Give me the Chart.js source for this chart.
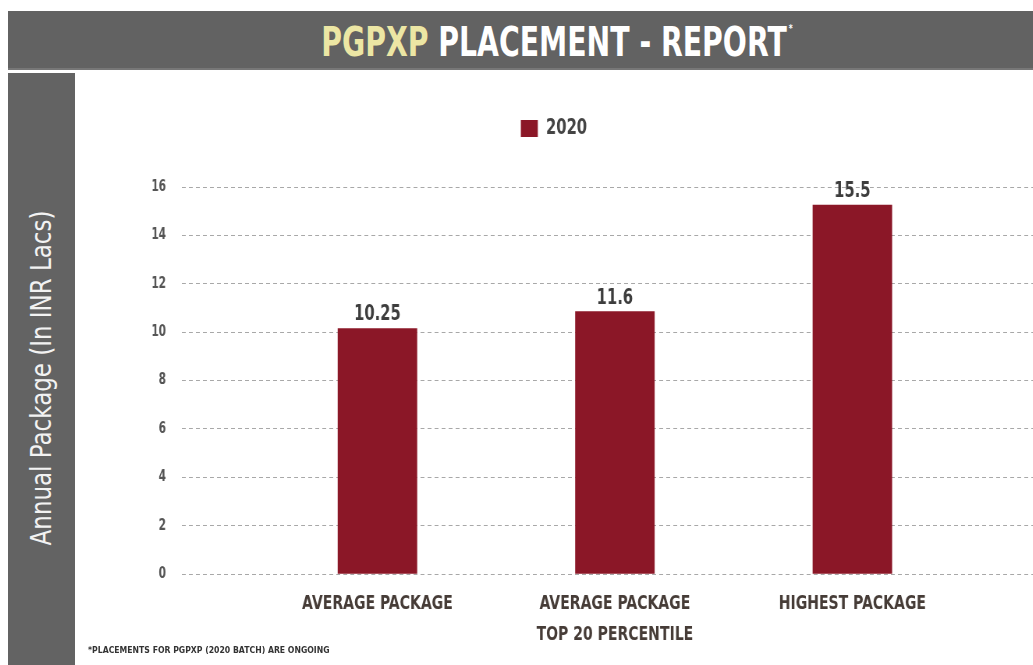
<!DOCTYPE html>
<html>
<head>
<meta charset="utf-8">
<script src="https://cdn.jsdelivr.net/npm/chart.js@4"></script>
<style>
  html, body { margin: 0; padding: 0; background: #fff; }
  body { width: 1033px; height: 665px; position: relative; overflow: hidden; font-family: "DejaVu Sans", sans-serif; }
  #header { position: absolute; left: 8px; top: 11px; width: 1025px; height: 59px; background: #626262; border-bottom: 2px solid #777; box-sizing: border-box; }
  #header .t { position: absolute; left: 549px; top: 31px; transform: translate(-50%, -50%) scaleX(0.69); white-space: nowrap;
               color: #fff; font-weight: bold; font-size: 41px; }
  #header .pg { color: #ece6a4; }
  #header sup { font-size: 11px; vertical-align: top; position: relative; top: 4px; margin-left: 3px; }
  #side { position: absolute; left: 8px; top: 73px; width: 67px; height: 592px; background: #636363; }
  #side span { position: absolute; left: 33px; top: 305px; transform: translate(-50%, -50%) rotate(-90deg) scaleX(0.82); white-space: nowrap;
               color: #f2f2f2; font-size: 28px; }
  #wrap { position: absolute; left: 75px; top: 73px; width: 958px; height: 592px; }
  #wrap canvas { transform: scaleX(0.78); transform-origin: left top; }
  #note { position: absolute; left: 88px; top: 645px; font-size: 9px; font-weight: bold; color: #333; transform: scaleX(0.86); transform-origin: left top; white-space: nowrap; }
</style>
</head>
<body>
<div id="header"><span class="t"><span class="pg">PGPXP</span> PLACEMENT - REPORT<sup>*</sup></span></div>
<div id="side"><span>Annual Package (In INR Lacs)</span></div>
<div id="wrap"><canvas id="placementChart" width="1228" height="592"></canvas></div>
<div id="note">*PLACEMENTS FOR PGPXP (2020 BATCH) ARE ONGOING</div>
<script>
let categories = [['AVERAGE PACKAGE'], ['AVERAGE PACKAGE', 'TOP 20 PERCENTILE'], ['HIGHEST PACKAGE']]
let values = [10.15, 10.85, 15.25]
let valueLabels = ['10.25', '11.6', '15.5']
let yTicks = [0, 2, 4, 6, 8, 10, 12, 14, 16]
let seriesName = '2020'

let font = '"DejaVu Sans Condensed", "DejaVu Sans", sans-serif'
// canvas is drawn wide and squeezed by css, so text comes out narrow like the original
let squeeze = 0.78

// extra room under the legend
let legendGap = {
  id: 'legendGap',
  beforeInit(chart) {
    let fit = chart.legend.fit
    chart.legend.fit = function () {
      fit.bind(chart.legend)()
      this.height += 38
    }
  }
}

let condensed = {
  id: 'condensed',
  beforeDraw(chart) { chart.ctx.fontStretch = 'condensed' }
}

let barLabels = {
  id: 'barLabels',
  afterDatasetsDraw(chart) {
    let ctx = chart.ctx
    let meta = chart.getDatasetMeta(0)
    ctx.save()
    ctx.font = 'bold 21px ' + font
    ctx.fontStretch = 'condensed'
    ctx.fillStyle = '#3d3d3d'
    ctx.textAlign = 'center'
    ctx.textBaseline = 'bottom'
    meta.data.forEach((bar, i) => {
      ctx.fillText(valueLabels[i], bar.x, bar.y - 3)
    })
    ctx.restore()
  }
}

let ctx = document.getElementById('placementChart').getContext('2d')
let chart = new Chart(ctx, {
  type: 'bar',
  data: {
    datasets: [{
      label: seriesName,
      data: values.map((v, i) => ({ x: i, y: v })),
      backgroundColor: '#8b1727',
      barThickness: 79 / squeeze
    }]
  },
  options: {
    responsive: false,
    animation: false,
    layout: { padding: { top: 35, left: 0, right: 0, bottom: 0 } },
    plugins: {
      legend: {
        labels: {
          boxWidth: 17 / squeeze,
          boxHeight: 17,
          padding: 10,
          color: '#444',
          font: { family: font, size: 21, weight: 'bold' }
        }
      },
      tooltip: { enabled: false }
    },
    scales: {
      x: {
        type: 'linear',
        offset: false,
        min: -0.823,
        max: 2.76,
        grid: { display: false, offset: false },
        border: { display: false },
        afterBuildTicks(scale) { scale.ticks = categories.map((c, i) => ({ value: i })) },
        afterFit(scale) { scale.height = 91 },
        ticks: {
          autoSkip: false,
          maxRotation: 0,
          padding: 6,
          color: '#463c37',
          font: { family: font, size: 20, weight: 'bold', lineHeight: 1.55 },
          callback: (v) => categories[v]
        }
      },
      y: {
        min: 0,
        max: 16,
        afterBuildTicks(scale) { scale.ticks = yTicks.map(v => ({ value: v })) },
        afterFit(scale) { scale.width = 107 / squeeze },
        border: { display: false, dash: [5, 4] },
        grid: { color: '#a8a8a8', lineWidth: 1, drawTicks: false },
        ticks: {
          padding: 16 / squeeze,
          color: '#555',
          font: { family: font, size: 15, weight: 'bold' }
        }
      }
    }
  },
  plugins: [legendGap, condensed, barLabels]
})
</script>
</body>
</html>
